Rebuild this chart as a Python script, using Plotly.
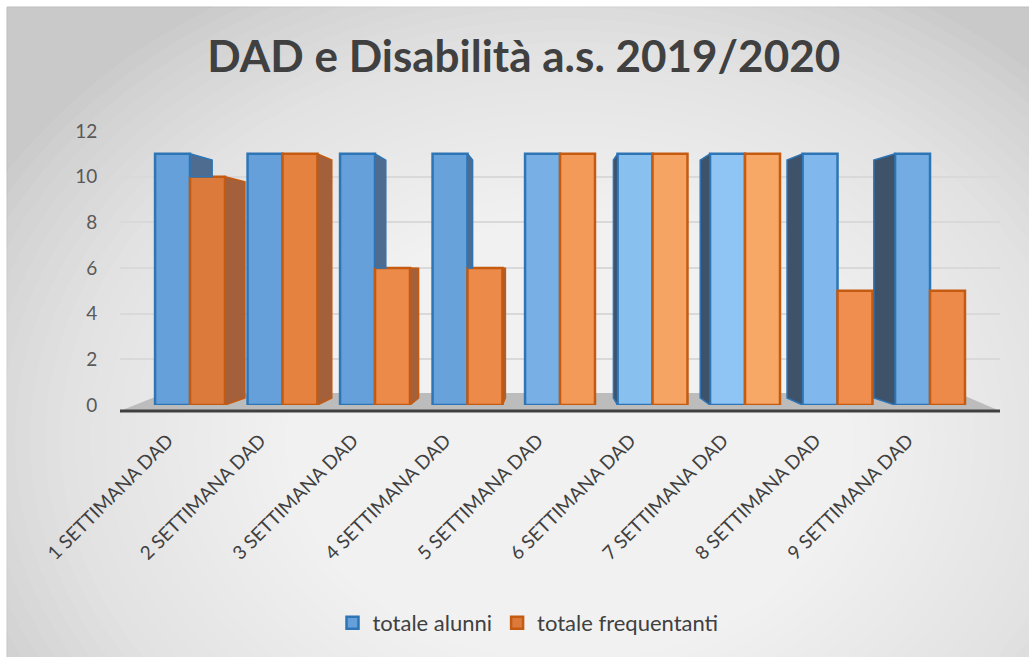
import plotly.graph_objects as go

categories = ["1 SETTIMANA DAD", "2 SETTIMANA DAD", "3 SETTIMANA DAD", "4 SETTIMANA DAD",
              "5 SETTIMANA DAD", "6 SETTIMANA DAD", "7 SETTIMANA DAD", "8 SETTIMANA DAD",
              "9 SETTIMANA DAD"]
totale_alunni = [11, 11, 11, 11, 11, 11, 11, 11, 11]
totale_frequentanti = [10, 11, 6, 6, 11, 11, 11, 5, 5]
y_ticks = [0, 2, 4, 6, 8, 10, 12]

W, H = 1029, 657
L, R, T, B = 120, 29, 131, 252
PW, PH = W - L - R, H - T - B
FONT = "Lato, 'Open Sans', sans-serif"

def px_x(p):
    return (p - L) / PW

def px_y(p):
    return (H - B - p) / PH

n = len(categories)
xs = list(range(n))
half = 0.378  # width of each bar in category units
x_lo, x_hi = -0.757, -0.757 + PW / 92.5
label_offset = -0.24  # rotated labels end slightly left of the group centre

# pseudo-3D side faces (perspective)
k, vp = 0.0615, 3.892
vh, shrink = 5.83, 0.947

def back(v):
    return vh + (v - vh) * shrink

fig = go.Figure()

side_blue_light = "#4d6c90"
side_blue_dark = "#3e526a"
side_orange = "#a3603a"

for i in xs:
    va, vf = totale_alunni[i], totale_frequentanti[i]
    # orange right side
    xe = i + half
    dx = -k * (xe - vp)
    if dx > 0.01:
        fig.add_trace(go.Scatter(
            x=[xe, xe, xe + dx, xe + dx, xe], y=[0, vf, back(vf), back(0), 0],
            mode="lines", fill="toself", fillcolor=side_orange,
            line=dict(color="#c55a11", width=1.5), showlegend=False, hoverinfo="skip"))
    # blue right side (visible only above orange)
    xe = i
    dx = -k * (xe - vp)
    if dx > 0.01 and back(va) > vf:
        fig.add_trace(go.Scatter(
            x=[xe, xe, xe + dx, xe + dx, xe], y=[vf, va, back(va), vf, vf],
            mode="lines", fill="toself", fillcolor=side_blue_light,
            line=dict(color="#2e75b6", width=1.5), showlegend=False, hoverinfo="skip"))
    # blue left side
    xe = i - half
    dx = -k * (xe - vp)
    if dx < -0.01:
        fig.add_trace(go.Scatter(
            x=[xe, xe, xe + dx, xe + dx, xe], y=[0, va, back(va), back(0), 0],
            mode="lines", fill="toself", fillcolor=side_blue_dark,
            line=dict(color="#2e75b6", width=1.5), showlegend=False, hoverinfo="skip"))

blue_cols = ["#66a0da", "#66a0da", "#66a0da", "#68a2da", "#78b0e6", "#88c0f0",
             "#8ec5f4", "#80b8ee", "#72ace2"]
orange_cols = ["#dc7a3c", "#e5823f", "#ec8a4a", "#ec8a4a", "#f39a58", "#f6a464",
               "#f7a866", "#ef8e4e", "#ed8a4a"]

fig.add_trace(go.Bar(
    x=xs, y=totale_alunni, name="totale alunni", width=half, offset=-half,
    marker=dict(color=blue_cols, line=dict(color="#2e75b6", width=2.5)),
    legendrank=1))
fig.add_trace(go.Bar(
    x=xs, y=totale_frequentanti, name="totale frequentanti", width=half, offset=0,
    marker=dict(color=orange_cols, line=dict(color="#c55a11", width=2.5)),
    legendrank=2))

shapes = []
# white page, then gray chart background
shapes.append(dict(type="rect", xref="paper", yref="paper",
                   x0=px_x(7), x1=px_x(W + 5), y0=px_y(7), y1=px_y(H + 5),
                   fillcolor="#c9c9c9", line=dict(color="#bdbdbd", width=1), layer="below"))
# radial-ish gradient with stacked ellipses
cx, cy = 570, 440
steps = 44
for s in range(steps):
    rx = 660 * (1 - s / steps)
    ry = rx * 0.78
    shapes.append(dict(type="circle", xref="paper", yref="paper",
                       x0=px_x(cx - rx), x1=px_x(cx + rx),
                       y0=px_y(cy + ry), y1=px_y(cy - ry),
                       fillcolor="white", opacity=0.062, line=dict(width=0), layer="below"))
# floor
shapes.append(dict(type="path", xref="paper", yref="paper",
                   path=f"M {px_x(120)},{px_y(411)} L {px_x(1000)},{px_y(411)} "
                        f"L {px_x(958)},{px_y(393)} L {px_x(165)},{px_y(393)} Z",
                   fillcolor="#bcbcbc", line=dict(width=0), layer="between"))
shapes.append(dict(type="line", xref="paper", yref="paper",
                   x0=px_x(120), x1=px_x(1000), y0=px_y(411), y1=px_y(411),
                   line=dict(color="#404040", width=3), layer="above"))

fig.update_layout(
    width=W, height=H,
    margin=dict(l=L, r=R, t=T, b=B, pad=0),
    paper_bgcolor="white", plot_bgcolor="rgba(0,0,0,0)",
    font=dict(family=FONT, color="#404040"),
    title=dict(text="<b>DAD e Disabilità a.s. 2019/2020</b>", x=0.509, xanchor="center",
               y=1 - 57 / H, yanchor="middle",
               font=dict(family=FONT, size=44, color="#404040")),
    barmode="overlay",
    showlegend=True,
    legend=dict(orientation="h", x=px_x(528), xanchor="center", y=px_y(623), yanchor="middle",
                font=dict(size=22, color="#404040"), bgcolor="rgba(0,0,0,0)",
                itemwidth=30, traceorder="normal"),
    shapes=shapes,
    xaxis=dict(range=[x_lo, x_hi], tickmode="array",
               tickvals=[x + label_offset for x in xs], ticktext=categories,
               tickangle=-45, tickfont=dict(size=19, color="#404040"),
               showgrid=False, zeroline=False, showline=False,
               ticks="outside", ticklen=16, tickcolor="rgba(0,0,0,0)"),
    yaxis=dict(range=[0, 12], tickvals=y_ticks, tickfont=dict(size=19, color="#595959"),
               showgrid=True, gridcolor="#d9d9d9", gridwidth=1.5, zeroline=False,
               showline=False, ticks="outside", ticklen=18, tickcolor="rgba(0,0,0,0)"),
    hovermode=False,
)

fig.write_html("out.html")
